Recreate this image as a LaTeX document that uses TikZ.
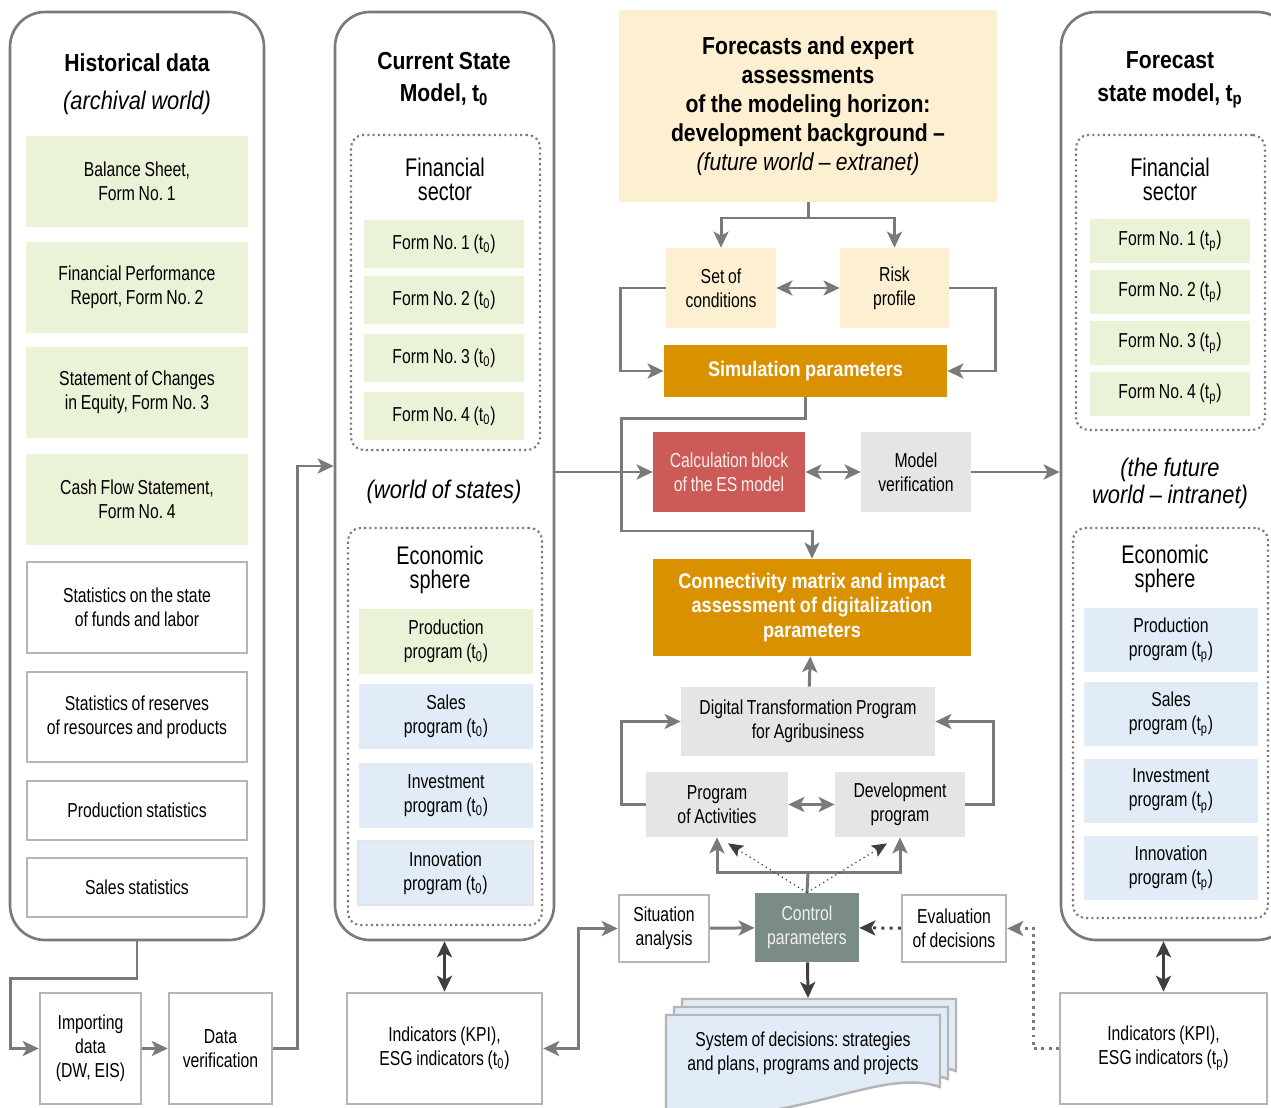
\documentclass[tikz,border=0pt]{standalone}
\usepackage{fontspec}
\setmainfont{Liberation Sans}[FakeStretch=0.78,WordSpace=0.85]
\newfontfamily\headfont{Liberation Sans}[FakeStretch=0.86,WordSpace=0.9]
\frenchspacing
\usepackage{tikz}
\usetikzlibrary{arrows.meta,positioning,calc}
\definecolor{linegray}{HTML}{7A7A7A}
\definecolor{boxgray}{HTML}{B5B5B5}
\definecolor{darkline}{HTML}{3F3F3F}
\definecolor{softgreen}{HTML}{EAF3D7}
\definecolor{softblue}{HTML}{E2ECF8}
\definecolor{softyellow}{HTML}{FDF0D2}
\definecolor{amber}{HTML}{D99100}
\definecolor{brick}{HTML}{CC5B58}
\definecolor{lightgray}{HTML}{E4E5E4}
\definecolor{slate}{HTML}{7B8B86}
\newcommand{\tsub}[1]{t\textsubscript{#1}}

\begin{document}
\begin{tikzpicture}[
 x=0.02cm, y=-0.02cm,
 font=\fontsize{11.5}{13.6}\selectfont,
 cell/.style n args={4}{at={({(#1+#3)/2},{(#2+#4)/2})}, minimum width={(#3-#1)*0.02cm},
   minimum height={(#4-#2)*0.02cm}, inner sep=0pt, align=center},
 gcell/.style n args={4}{cell={#1}{#2}{#3}{#4}, fill=softgreen},
 bcell/.style n args={4}{cell={#1}{#2}{#3}{#4}, fill=softblue},
 ycell/.style n args={4}{cell={#1}{#2}{#3}{#4}, fill=softyellow},
 lcell/.style n args={4}{cell={#1}{#2}{#3}{#4}, fill=lightgray},
 wcell/.style n args={4}{cell={#1}{#2}{#3}{#4}, draw=boxgray, line width=1.4pt, fill=white},
 ocell/.style n args={4}{cell={#1}{#2}{#3}{#4}, fill=amber, text=white, font=\headfont\bfseries\fontsize{12}{14.2}\selectfont},
 frame/.style n args={4}{cell={#1}{#2}{#3}{#4}, draw=linegray, line width=1.5pt, rounded corners=0.7cm},
 dotframe/.style n args={4}{cell={#1}{#2}{#3}{#4}, draw=linegray, line width=1.2pt, dash pattern=on 1.2pt off 1.8pt, rounded corners=0.25cm},
 head/.style={align=center, font=\headfont\bfseries\fontsize{14}{18.6}\selectfont},
 world/.style={align=center, font=\headfont\itshape\fontsize{14.5}{15.3}\selectfont},
 sect/.style={align=center, font=\fontsize{14.5}{13.6}\selectfont},
 line/.style={draw=linegray, line width=1.7pt},
 arr/.style={line, -{Stealth[length=3.2mm,width=3mm,inset=0.8mm]}},
 darr/.style={line, {Stealth[length=3.2mm,width=3mm,inset=0.8mm]}-{Stealth[length=3.2mm,width=3mm,inset=0.8mm]}},
 dkdarr/.style={darr, draw=darkline},
 dkarr/.style={arr, draw=darkline},
 dotarr/.style={draw=darkline, line width=0.7pt, dotted, -{Stealth[length=3mm,width=2.6mm,inset=0.6mm]}},
 dotdkarr/.style={dkarr, dash pattern=on 1.7pt off 3pt},
 dotgrarr/.style={arr, dash pattern=on 1.7pt off 2.4pt},
 docpage/.style={draw=boxgray, line width=1.4pt, fill=softblue}
]
\path[use as bounding box, fill=white] (0,0) rectangle (1271,1108);

% historical data
\node[frame={10}{12}{264}{940}] (hist) {};
\node[head] (histtitle) at (137,63) {Historical data};
\node[world] (histworld) at (137,103) {(archival world)};
\node[gcell={26}{136}{248}{227}] (bal) {Balance Sheet,\\Form No. 1};
\node[gcell={26}{242}{248}{333}] (perf) {Financial Performance\\Report, Form No. 2};
\node[gcell={26}{347}{248}{438}] (equity) {Statement of Changes\\in Equity, Form No. 3};
\node[gcell={26}{454}{248}{545}] (cash) {Cash Flow Statement,\\Form No. 4};
\node[wcell={27}{562}{247}{653}] (funds) {Statistics on the state\\of funds and labor};
\node[wcell={27}{672}{247}{762}] (reserves) {Statistics of reserves\\of resources and products};
\node[wcell={27}{781}{247}{840}] (prodstat) {Production statistics};
\node[wcell={27}{858}{247}{917}] (salestat) {Sales statistics};

% current state model
\node[frame={335}{12}{554}{940}] (cur) {};
\node[head] (curtitle) at (444,79) {Current State\\Model, \tsub{0}};
\node[dotframe={351}{135}{540}{450}] (curfin) {};
\node[sect] (curfinttl) at (445,179) {Financial\\sector};
\node[gcell={364}{220}{524}{268}] (cf1) {Form No. 1 (\tsub{0})};
\node[gcell={364}{276}{524}{324}] (cf2) {Form No. 2 (\tsub{0})};
\node[gcell={364}{334}{524}{382}] (cf3) {Form No. 3 (\tsub{0})};
\node[gcell={364}{392}{524}{440}] (cf4) {Form No. 4 (\tsub{0})};
\node[world] (curworld) at (444,492) {(world of states)};
\node[dotframe={348}{528}{542}{925}] (curecon) {};
\node[sect] (cureconttl) at (440,570) {Economic\\sphere};
\node[gcell={359}{609}{533}{674}] (cprod) {Production\\program (\tsub{0})};
\node[bcell={359}{684}{533}{749}] (csale) {Sales\\program (\tsub{0})};
\node[bcell={359}{763}{533}{828}] (cinv) {Investment\\program (\tsub{0})};
\node[bcell={358}{841}{533}{905}, draw=lightgray, line width=1.5pt] (cinno) {Innovation\\program (\tsub{0})};

% forecast state model
\node[frame={1061}{12}{1292}{940}] (fcst) {};
\node[head] (fcsttitle) at (1170,80) {Forecast\\state model, \tsub{p}};
\node[dotframe={1076}{135}{1265}{430}] (ffin) {};
\node[sect] (ffinttl) at (1170,179) {Financial\\sector};
\node[gcell={1090}{219}{1250}{263}] (pf1) {Form No. 1 (\tsub{p})};
\node[gcell={1090}{270}{1250}{314}] (pf2) {Form No. 2 (\tsub{p})};
\node[gcell={1090}{321}{1250}{365}] (pf3) {Form No. 3 (\tsub{p})};
\node[gcell={1090}{372}{1250}{416}] (pf4) {Form No. 4 (\tsub{p})};
\node[world] (fworld) at (1170,483) {(the future\\world – intranet)};
\node[dotframe={1073}{528}{1268}{918}] (fecon) {};
\node[sect] (feconttl) at (1165,569) {Economic\\sphere};
\node[bcell={1084}{608}{1258}{672}] (pprod) {Production\\program (\tsub{p})};
\node[bcell={1084}{682}{1258}{746}] (psale) {Sales\\program (\tsub{p})};
\node[bcell={1084}{759}{1258}{823}] (pinv) {Investment\\program (\tsub{p})};
\node[bcell={1084}{836}{1258}{900}] (pinno) {Innovation\\program (\tsub{p})};

% centre column
\node[ycell={619}{10}{997}{202}, font=\headfont\bfseries\fontsize{14}{16.5}\selectfont] (fore)
 {Forecasts and expert\\assessments\\of the modeling horizon:\\development background –\\{\mdseries\itshape (future world – extranet)}};
\node[ycell={666}{248}{776}{328}] (cond) {Set of\\conditions};
\node[ycell={840}{248}{949}{328}] (risk) {Risk\\profile};
\node[ocell={664}{345}{947}{397}] (sim) {Simulation parameters};
\node[cell={653}{432}{805}{512}, fill=brick, text=white!90!brick] (calc) {Calculation block\\of the ES model};
\node[lcell={861}{432}{971}{512}] (verif) {Model\\verification};
\node[ocell={653}{559}{971}{656}] (conn) {Connectivity matrix and impact\\assessment of digitalization\\parameters};
\node[lcell={681}{687}{935}{756}] (digi) {Digital Transformation Program\\for Agribusiness};
\node[lcell={646}{772}{788}{837}] (prog) {Program\\of Activities};
\node[lcell={835}{772}{965}{837}] (dev) {Development\\program};
\node[cell={755}{893}{859}{962}, fill=slate, text=white!88!slate] (ctrl) {Control\\parameters};
\node[wcell={619}{895}{709}{962}] (sit) {Situation\\analysis};
\node[wcell={902}{895}{1006}{962}] (eval) {Evaluation\\of decisions};

% stack of decision documents
\foreach \d in {16,8,0}
 \draw[docpage] (666+\d,1015-\d) -- (940+\d,1015-\d) -- (940+\d,1087-\d)
  .. controls (880+\d,1066-\d) and (800+\d,1126-\d) .. (666+\d,1116-\d) -- cycle;
\node[align=center] (docs) at (803,1053) {System of decisions: strategies\\and plans, programs and projects};
\coordinate (docstop) at (808,998);

% bottom row
\node[wcell={40}{993}{141}{1104}] (imp) {Importing\\data\\(DW, EIS)};
\node[wcell={169}{993}{272}{1104}] (dver) {Data\\verification};
\node[wcell={347}{993}{542}{1104}] (kpi0) {Indicators (KPI),\\ESG indicators (\tsub{0})};
\node[wcell={1060}{993}{1267}{1104}] (kpip) {Indicators (KPI),\\ESG indicators (\tsub{p})};

% connectors
\coordinate (fj) at (808,218);
\draw[line] (fore.south -| fj) -- (fj);
\draw[arr] (fj) -| (cond.north);
\draw[arr] (fj) -| (risk.north);
\draw[darr] (cond) -- (risk);
\draw[arr] (cond.west) -- ++(-45,0) |- (sim.west);
\draw[arr] (risk.east) -- ++(46,0) |- (sim.east);
\coordinate (loopL) at (621,531);
\draw[arr] (sim.south) -- ++(0,21) -| (loopL) -| (conn.north);
\draw[arr] (cur.east |- calc.west) -- (calc.west);
\draw[darr] (calc) -- (verif);
\draw[arr] (verif.east) -- (verif.east -| fcst.west);
\draw[arr] (digi) -- (conn);
\draw[darr] (prog) -- (dev);
\draw[arr] (prog.west) -- ++(-24,0) |- (digi.west);
\draw[arr] (dev.east) -- ++(28,0) |- (digi.east);
\coordinate (cj) at (808,872);
\draw[line] (ctrl.north) -- (cj);
\draw[arr] (cj) -| (prog.south);
\draw[arr] (cj) -| (dev.south);
\draw[dotarr] (ctrl.north) -- ($(prog.south)+(11,6)$);
\draw[dotarr] (ctrl.north) -- ($(dev.south)+(-13,6)$);
\draw[arr] (sit) -- (ctrl);
\draw[dotdkarr] (eval) -- (ctrl);
\draw[dkarr] (ctrl) -- (docstop);
\draw[dkdarr] (cur.south) -- (kpi0.north);
\draw[darr] (sit.west) -| ($(kpi0.east)+(35,0)$) -- (kpi0.east);
\draw[dkdarr] (kpip.north |- fcst.south) -- (kpip.north);
\draw[dotgrarr] (kpip.west) -- ++(-25,0) |- (eval.east);
\draw[arr] (hist.south) -- ++(0,37) -| ([xshift=-0.56cm]imp.west) -- (imp.west);
\draw[arr] (imp) -- (dver);
\draw[arr] (dver.east) -- ++(24,0) |- ([yshift=0.2cm]cur.west);
\end{tikzpicture}
\end{document}
